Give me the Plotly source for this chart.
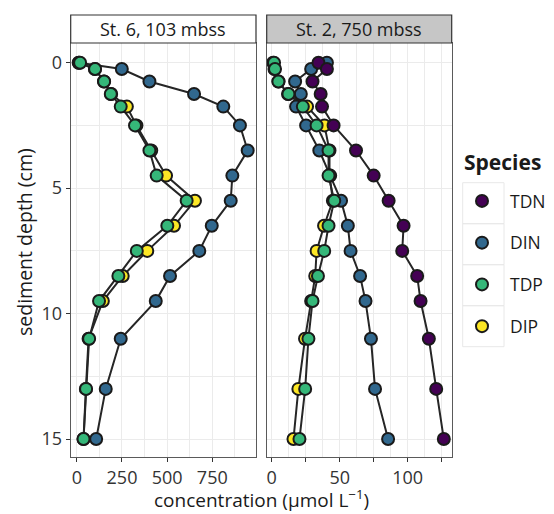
import plotly.graph_objects as go

# ---------------- data ----------------
species = ["TDN", "DIN", "TDP", "DIP"]
colors = {"TDN": "#440154", "DIN": "#31688E", "TDP": "#35B779", "DIP": "#FDE725"}
strip_labels = ["St. 6, 103 mbss", "St. 2, 750 mbss"]

depth = [0, 0.25, 0.75, 1.25, 1.75, 2.5, 3.5, 4.5, 5.5, 6.5, 7.5, 8.5, 9.5, 11, 13, 15]

# St. 6, 103 mbss
st6_DIN = [12, 249, 402, 649, 811, 903, 946, 861, 852, 747, 678, 516, 437, 243, 160, 107]
st6_TDP = [18, 101, 151, 188, 243, 322, 402, 442, 608, 501, 332, 230, 123, 68, 51, 37]
st6_DIP = [10, 100, 150, 190, 277, 330, 412, 494, 654, 538, 390, 254, 144, 65, 50, 37]

# St. 2, 750 mbss
st2_TDN = [34.4, 40.6, 30, 36, 37, 45.5, 62, 75, 86, 97, 96, 107, 109.5, 115.6, 121, 126.6]
st2_DIN = [40.6, 29, 17.2, 21.4, 17.9, 25.3, 35, 43, 51, 56, 58, 65, 69, 73, 76, 85.6]
st2_TDP = [1.7, 2.4, 4.9, 12.3, 22.9, 33, 41.8, 41.8, 46, 41.8, 38.6, 34, 30, 27, 24.6, 20.4]
st2_DIP = [1.0, 2.0, 5.0, 12.0, 26, 38.8, 42.5, 42.5, 45, 38.5, 33, 32, 29, 24.5, 19.6, 16]

panels = [
    ("x", "y", {"DIN": st6_DIN, "TDP": st6_TDP, "DIP": st6_DIP}),
    ("x2", "y2", {"TDN": st2_TDN, "DIN": st2_DIN, "TDP": st2_TDP, "DIP": st2_DIP}),
]

draw_order = ["DIP", "DIN", "TDP", "TDN"]

# page is offset by the default 8px body margin
OFF = 8
W, H = 554 - 2 * OFF, 514 - OFF
def px(xp):
    return (xp - OFF) / W
def py(yp):
    return (H - (yp - OFF)) / H

fig = go.Figure()

# lines first
for xa, ya, data in panels:
    for sp in draw_order:
        if sp in data:
            fig.add_trace(go.Scatter(
                x=data[sp], y=depth, xaxis=xa, yaxis=ya, mode="lines",
                line=dict(color="#262626", width=2), showlegend=False, hoverinfo="skip"))

# points
shown = set()
for xa, ya, data in panels:
    for sp in draw_order:
        if sp in data:
            fig.add_trace(go.Scatter(
                x=data[sp], y=depth, xaxis=xa, yaxis=ya, mode="markers", name=sp,
                marker=dict(color=colors[sp], size=12, line=dict(color="#1a1a1a", width=2)),
                showlegend=sp not in shown, legendgroup=sp,
                legendrank=species.index(sp) + 1))
            shown.add(sp)

FONT = "Open Sans"
grid = "#ebebeb"
axis_common = dict(showline=True, linecolor="#5a5a5a", linewidth=1, mirror=True,
                   zeroline=False, showgrid=True, gridcolor=grid, gridwidth=1,
                   automargin=False,
                   ticklen=4, tickcolor="#333333", tickwidth=1,
                   tickfont=dict(family=FONT, size=18, color="#333333"))

left_dom = [px(70.7), px(256)]
right_dom = [px(266.7), px(451.7)]
y_dom = [py(457), py(43)]

fig.update_layout(
    width=W, height=H, margin=dict(l=0, r=0, t=0, b=0, autoexpand=False),
    paper_bgcolor="white", plot_bgcolor="white",
    font=dict(family=FONT, color="#1a1a1a"),
    xaxis=dict(domain=left_dom, range=[-34, 992], anchor="y", ticks="outside",
               tickvals=[0, 250, 500, 750],
               minor=dict(tickvals=[125, 375, 625, 875], showgrid=True, gridcolor=grid, ticks=""),
               **axis_common),
    xaxis2=dict(domain=right_dom, range=[-3.7, 132.4], anchor="y2", ticks="outside",
                tickvals=[0, 25, 50, 75, 100, 125], ticktext=["0", "", "50", "", "100", ""],
                minor=dict(dtick=12.5, tick0=0, showgrid=True, gridcolor=grid, ticks=""),
                **axis_common),
    yaxis=dict(domain=y_dom, range=[15.715, -0.785], anchor="x", ticks="outside",
               tickvals=[0, 5, 10, 15],
               minor=dict(tickvals=[2.5, 7.5, 12.5], showgrid=True, gridcolor=grid, ticks=""),
               **axis_common),
    yaxis2=dict(domain=y_dom, range=[15.715, -0.785], anchor="x2", matches="y", ticks="",
                tickvals=[0, 5, 10, 15], showticklabels=False,
                minor=dict(tickvals=[2.5, 7.5, 12.5], showgrid=True, gridcolor=grid, ticks=""),
                **axis_common),
    legend=dict(
        x=px(454), xanchor="left", y=py(183), yanchor="top",
        font=dict(family=FONT, size=17.5, color="#1a1a1a"),
        traceorder="grouped", tracegroupgap=16, itemwidth=46,
        bgcolor="rgba(0,0,0,0)"),
)

shapes = []
# strips
shapes.append(dict(type="rect", xref="paper", yref="paper", x0=left_dom[0], x1=left_dom[1],
                   y0=py(43), y1=py(15), fillcolor="white", line=dict(color="#333333", width=1.2), layer="above"))
shapes.append(dict(type="rect", xref="paper", yref="paper", x0=right_dom[0], x1=right_dom[1],
                   y0=py(43), y1=py(15), fillcolor="#c6c6c6", line=dict(color="#333333", width=1.2), layer="above"))
# legend key cells
for i in range(4):
    shapes.append(dict(type="rect", xref="paper", yref="paper", x0=px(462.7), x1=px(504),
                       y0=py(182.7 + 41 * (i + 1)), y1=py(182.7 + 41 * i),
                       line=dict(color="#e8e8e8", width=1), fillcolor="rgba(0,0,0,0)", layer="below"))
fig.update_layout(shapes=shapes)

ann = []
for dom, lab in zip([left_dom, right_dom], strip_labels):
    ann.append(dict(text=lab, xref="paper", yref="paper", x=(dom[0] + dom[1]) / 2, y=py(29),
                    xanchor="center", yanchor="middle", showarrow=False,
                    font=dict(family=FONT, size=18, color="#1a1a1a")))
ann.append(dict(text="concentration (µmol L<sup>−1</sup>)", xref="paper", yref="paper",
                x=px(261), y=py(499), xanchor="center", yanchor="middle", showarrow=False,
                font=dict(family=FONT, size=19, color="#1a1a1a")))
ann.append(dict(text="sediment depth (cm)", xref="paper", yref="paper", textangle=-90,
                x=px(24), y=py(242), xanchor="center", yanchor="middle", showarrow=False,
                font=dict(family=FONT, size=19.5, color="#1a1a1a")))
ann.append(dict(text="<b>Species</b>", xref="paper", yref="paper",
                x=px(462), y=py(162), xanchor="left", yanchor="middle", showarrow=False,
                font=dict(family=FONT, size=21, color="#1a1a1a")))
fig.update_layout(annotations=ann)

fig.write_html("out.html")
